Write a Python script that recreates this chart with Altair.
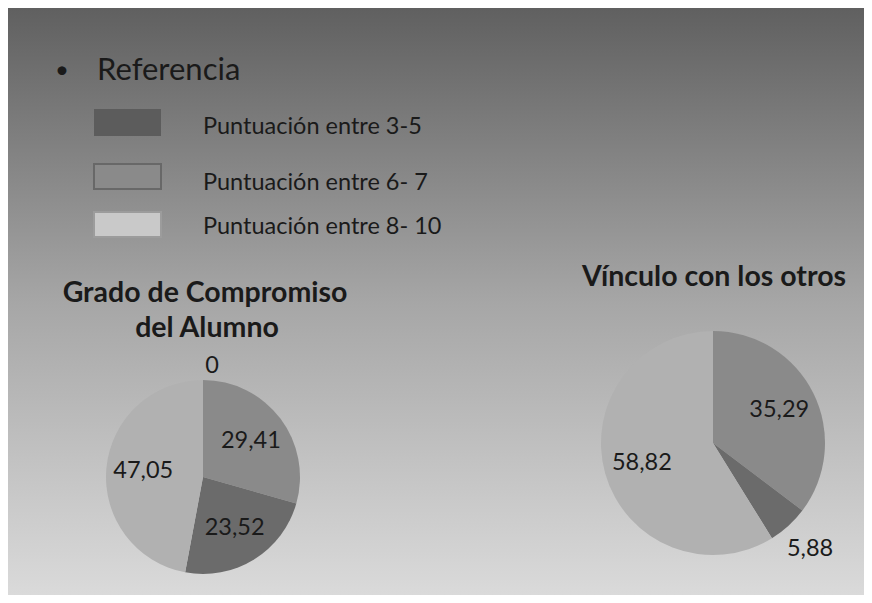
import altair as alt
import pandas as pd

# ---- data ----
grado_categorias = ["Puntuación entre 1-2", "Puntuación entre 6-7", "Puntuación entre 3-5", "Puntuación entre 8-10"]
grado_valores = [0, 29.41, 23.52, 47.05]
grado_etiquetas = ["0", "29,41", "23,52", "47,05"]

vinculo_categorias = ["Puntuación entre 6-7", "Puntuación entre 3-5", "Puntuación entre 8-10"]
vinculo_valores = [35.29, 5.88, 58.82]
vinculo_etiquetas = ["35,29", "5,88", "58,82"]

leyenda_titulo = "Referencia"
leyenda_items = ["Puntuación entre 3-5", "Puntuación entre 6- 7", "Puntuación entre 8- 10"]

titulo_grado = ["Grado de Compromiso", "del Alumno"]
titulo_vinculo = "Vínculo con los otros"

W, H = 856, 587
FONT = "Lato"
INK = "#1a1a1a"

color_scale = alt.Scale(
    domain=["Puntuación entre 1-2", "Puntuación entre 3-5", "Puntuación entre 6-7", "Puntuación entre 8-10"],
    range=["#606060", "#6b6b6b", "#8a8a8a", "#b1b1b1"],
)

one = pd.DataFrame({"k": [0]})

background = alt.Chart(one).mark_rect(
    color=alt.Gradient(
        gradient="linear",
        stops=[alt.GradientStop(color="#606060", offset=0),
               alt.GradientStop(color="#a6a6a6", offset=0.5),
               alt.GradientStop(color="#dadada", offset=1)],
        x1=0, x2=0, y1=0, y2=1,
    )
).encode(x=alt.value(0), x2=alt.value(W), y=alt.value(0), y2=alt.value(H))


def pie(cats, vals, labels, cx, cy, r, r_in, r_out, dx_out=0):
    df = pd.DataFrame({"cat": cats, "valor": vals, "etiqueta": labels, "orden": list(range(len(cats)))})
    base = alt.Chart(df).encode(
        theta=alt.Theta("valor:Q", stack="normalize"),
        order=alt.Order("orden:Q"),
        x=alt.value(cx),
        y=alt.value(cy),
    )
    arc = base.mark_arc(outerRadius=r, stroke=None).encode(
        color=alt.Color("cat:N", scale=color_scale, legend=None)
    )
    inside = base.mark_text(radius=r_in, font=FONT, fontSize=23.5, color=INK).encode(
        text=alt.condition("datum.valor >= 10", alt.Text("etiqueta:N"), alt.value(""))
    )
    outside = base.mark_text(radius=r_out, dx=dx_out, font=FONT, fontSize=23.5, color=INK).encode(
        text=alt.condition("datum.valor < 10", alt.Text("etiqueta:N"), alt.value(""))
    )
    return [arc, inside, outside]


layers = [background]
layers += pie(grado_categorias, grado_valores, grado_etiquetas, 195, 469, 97, 60, 111, 9)
layers += pie(vinculo_categorias, vinculo_valores, vinculo_etiquetas, 705, 435, 112, 74, 144)

# titles
TS = 28.5
layers.append(alt.Chart(one).mark_text(text=titulo_grado[0], font=FONT, fontSize=TS, fontWeight="bold",
                                       color=INK, align="center", baseline="alphabetic")
              .encode(x=alt.value(197), y=alt.value(294)))
layers.append(alt.Chart(one).mark_text(text=titulo_grado[1], font=FONT, fontSize=TS, fontWeight="bold",
                                       color=INK, align="center", baseline="alphabetic")
              .encode(x=alt.value(199), y=alt.value(329)))
layers.append(alt.Chart(one).mark_text(text=titulo_vinculo, font=FONT, fontSize=TS, fontWeight="bold",
                                       color=INK, align="center", baseline="alphabetic")
              .encode(x=alt.value(706), y=alt.value(278)))

# legend block
layers.append(alt.Chart(one).mark_text(text="•", font=FONT, fontSize=24, color=INK, align="center",
                                       baseline="middle").encode(x=alt.value(54), y=alt.value(63)))
layers.append(alt.Chart(one).mark_text(text=leyenda_titulo, font=FONT, fontSize=31, color=INK, align="left",
                                       baseline="middle").encode(x=alt.value(89), y=alt.value(63)))

sw_rows = [(101, 128, "#5c5c5c", "#5c5c5c", 0), (156, 181, "#8a8a8a", "#686868", 2), (204, 229, "#c9c9c9", "#9c9c9c", 2)]
txt_y = [119, 175, 219]
for (y0, y1, fill, stroke, sw), label, ty in zip(sw_rows, leyenda_items, txt_y):
    layers.append(alt.Chart(one).mark_rect(fill=fill, stroke=stroke, strokeWidth=sw)
                  .encode(x=alt.value(86), x2=alt.value(153), y=alt.value(y0), y2=alt.value(y1)))
    layers.append(alt.Chart(one).mark_text(text=label, font=FONT, fontSize=23.5, color=INK, align="left",
                                           baseline="middle").encode(x=alt.value(195), y=alt.value(ty)))

chart = alt.layer(*layers).properties(
    width=W, height=H, padding=0,
    autosize=alt.AutoSizeParams(type="fit", contains="padding"),
).configure_view(stroke=None)

chart.save("out.html", embed_options={"renderer": "svg", "actions": False})
